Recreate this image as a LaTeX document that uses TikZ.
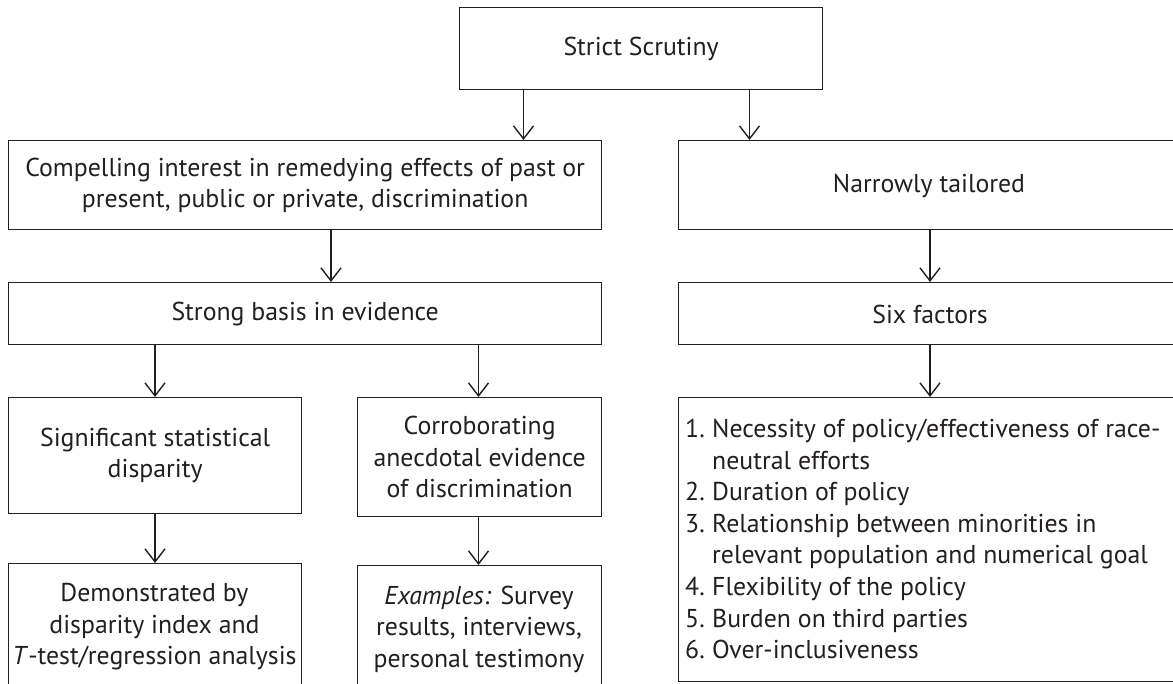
\documentclass[tikz,border=0pt]{standalone}
\usepackage{fontspec}
\setmainfont{PT Sans}
\usetikzlibrary{arrows.meta}
\definecolor{ink}{HTML}{231F20}
\newcommand{\itm}[1]{\makebox[27pt][l]{#1}}
\tikzset{
  box/.style={draw=ink, line width=1.3pt, anchor=north west, inner sep=0pt, text=ink,
    font=\fontsize{25.8}{31.5}\selectfont, align=center},
  txt/.style={text=ink, font=\fontsize{25.8}{31.5}\selectfont, align=center, inner sep=0pt},
  arr/.style={draw=ink, line width=1.4pt, -{Straight Barb[length=13pt,width=20pt,line width=1.4pt]}},
}
\begin{document}
\begin{tikzpicture}[x=1pt,y=-1pt]
\useasboundingbox (0,0) rectangle (1173,684);
\clip (0,0) rectangle (1173,684);
% boxes
\node[box, minimum width=363, minimum height=82] (ss) at (459,7) {Strict Scrutiny};
\node[box, minimum width=593, minimum height=89] (cpl) at (8,140)
  {Compelling interest in remedying effects of past or\\present, public or private, discrimination};
\node[box, minimum width=600, minimum height=89] (nt) at (678,140) {};
\node[box, minimum width=593, minimum height=62] (sb) at (8,282) {Strong basis in evidence};
\node[box, minimum width=600, minimum height=62] (sf) at (678,282) {};
\node[box, minimum width=293, minimum height=116] (sig) at (8,397) {Significant statistical\\disparity};
\node[box, minimum width=244, minimum height=119] (cor) at (357,397)
  {Corroborating\\anecdotal evidence\\of discrimination};
\node[box, minimum width=293, minimum height=200] (dem) at (8,563) {};
\node[box, minimum width=244, minimum height=200] (ex) at (357,565) {};
\node[box, minimum width=600, minimum height=284] (lst) at (678,397) {};
% texts in cut-off boxes
\node[txt] (ntt) at (929,186) {Narrowly tailored};
\node[txt] (sft) at (930,314) {Six factors};
\node[txt] (demt) at (154.5,627) {Demonstrated by\\disparity index and\\\textit{T}-test/regression analysis};
\node[txt] (ext) at (479,629) {\textit{Examples:} Survey\\results, interviews,\\personal testimony};
\node[txt, align=left, anchor=north west, font=\fontsize{25.8}{31.6}\selectfont] (lstt) at (685,419) {%
  \itm{1.}Necessity of policy/effectiveness of race-\\
  \itm{}neutral efforts\\
  \itm{2.}Duration of policy\\
  \itm{3.}Relationship between minorities in\\
  \itm{}relevant population and numerical goal\\
  \itm{4.}Flexibility of the policy\\
  \itm{5.}Burden on third parties\\
  \itm{6.}Over-inclusiveness};
% x positions of connectors
\coordinate (xa) at (523.5,0);
\coordinate (xb) at (749.5,0);
\coordinate (xc) at (331,0);
\coordinate (xd) at (930,0);
\coordinate (xe) at (155,0);
\coordinate (xf) at (478.5,0);
% connectors
\draw[arr] (ss.south -| xa) -- (cpl.north -| xa);
\draw[arr] (ss.south -| xb) -- (nt.north -| xb);
\draw[arr] (cpl.south -| xc) -- (sb.north -| xc);
\draw[arr] (nt.south -| xd) -- (sf.north -| xd);
\draw[arr] (sb.south -| xe) -- (sig.north -| xe);
\draw[arr] (sb.south -| xf) -- (cor.north -| xf);
\draw[arr] (sig.south -| xe) -- (dem.north -| xe);
\draw[arr] (cor.south -| xf) -- (ex.north -| xf);
\draw[arr] (sf.south -| xd) -- (lst.north -| xd);
\end{tikzpicture}
\end{document}
